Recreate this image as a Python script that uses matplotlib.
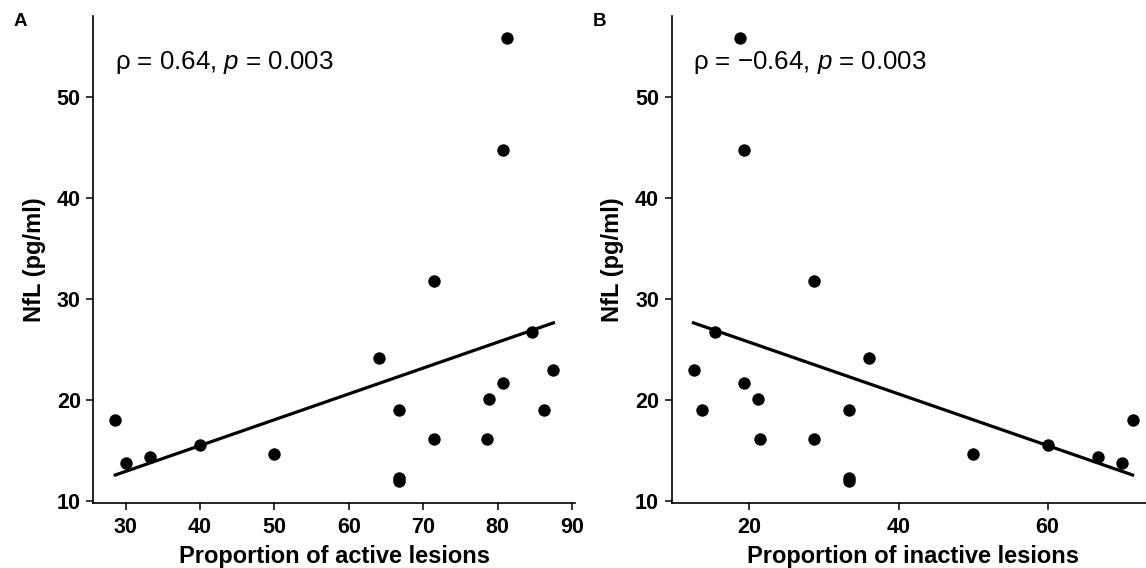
"""
NfL vs proportion of active / inactive lesions, two panels (A, B).
Writes out.png
"""
import numpy as np
import matplotlib
matplotlib.use("Agg")  # headless
import matplotlib.pyplot as plt

plt.rcParams["font.family"] = ["Liberation Sans", "DejaVu Sans"]
plt.rcParams["mathtext.fontset"] = "custom"
plt.rcParams["mathtext.it"] = "Liberation Sans:italic"
plt.rcParams["mathtext.rm"] = "Liberation Sans"

# ----- data -----
active_pct = [28.6, 30.0, 33.3, 40.0, 50.0, 64.0, 66.7, 66.7, 66.7, 71.4,
              71.4, 78.6, 78.9, 80.7, 80.7, 81.3, 84.6, 86.3, 87.5]
inactive_pct = [71.4, 70.0, 66.7, 60.0, 50.0, 36.0, 33.3, 33.3, 33.3, 28.6,
                28.6, 21.4, 21.1, 19.3, 19.3, 18.7, 15.4, 13.7, 12.5]
nfl = [18.0, 13.7, 14.3, 15.5, 14.6, 24.1, 19.0, 12.0, 12.3, 16.1,
       31.8, 16.1, 20.1, 21.7, 44.7, 55.8, 26.7, 19.0, 22.9]

panel_labels = ["A", "B"]
x_labels = ["Proportion of active lesions", "Proportion of inactive lesions"]
y_label = "NfL (pg/ml)"
stat_texts = ["\u03c1 = 0.64, $p$ = 0.003", "\u03c1 = \u22120.64, $p$ = 0.003"]
x_ticks = [[30, 40, 50, 60, 70, 80, 90], [20, 40, 60]]
y_ticks = [10, 20, 30, 40, 50]


def scatter_panel(ax, x, y, xlabel, stat, xticks) -> None:
    x = np.asarray(x)
    y = np.asarray(y)
    ax.scatter(x, y, s=80, color="black", zorder=3, linewidths=0)
    # lm fit, no CI band
    slope, icpt = np.polyfit(x, y, 1)
    xs = np.array([x.min(), x.max()])
    ax.plot(xs, icpt + slope * xs, color="black", lw=2.3, zorder=2)

    ax.margins(x=0.05, y=0.05)
    ax.set_xticks(xticks)
    ax.set_yticks(y_ticks)
    for s in ("top", "right"):
        ax.spines[s].set_visible(False)
    for s in ("left", "bottom"):
        ax.spines[s].set_linewidth(1.2)
    ax.tick_params(length=5, width=1.1, labelsize=15.5)
    ax.tick_params(axis="x", pad=5)
    ax.tick_params(axis="y", pad=4)
    for lab in ax.get_xticklabels() + ax.get_yticklabels():
        lab.set_fontweight("bold")
    ax.set_xlabel(xlabel, fontsize=17, fontweight="bold", labelpad=5)
    ax.set_ylabel(y_label, fontsize=17, fontweight="bold", labelpad=8)
    ax.text(0.045, 0.905, stat, transform=ax.transAxes, fontsize=18.6,
            ha="left", va="center")


fig = plt.figure(figsize=(11.46, 5.68), dpi=100)
ax_a = fig.add_axes([0.0814, 0.115, 0.4206, 0.857])
ax_b = fig.add_axes([0.586, 0.115, 0.4215, 0.857])

scatter_panel(ax_a, active_pct, nfl, x_labels[0], stat_texts[0], x_ticks[0])
scatter_panel(ax_b, inactive_pct, nfl, x_labels[1], stat_texts[1], x_ticks[1])

fig.text(20 / 1146, 1 - 22 / 568, panel_labels[0], fontsize=13.5,
         fontweight="bold", ha="center", va="center")
fig.text(599 / 1146, 1 - 22 / 568, panel_labels[1], fontsize=13.5,
         fontweight="bold", ha="center", va="center")

fig.savefig("out.png", dpi=100)
